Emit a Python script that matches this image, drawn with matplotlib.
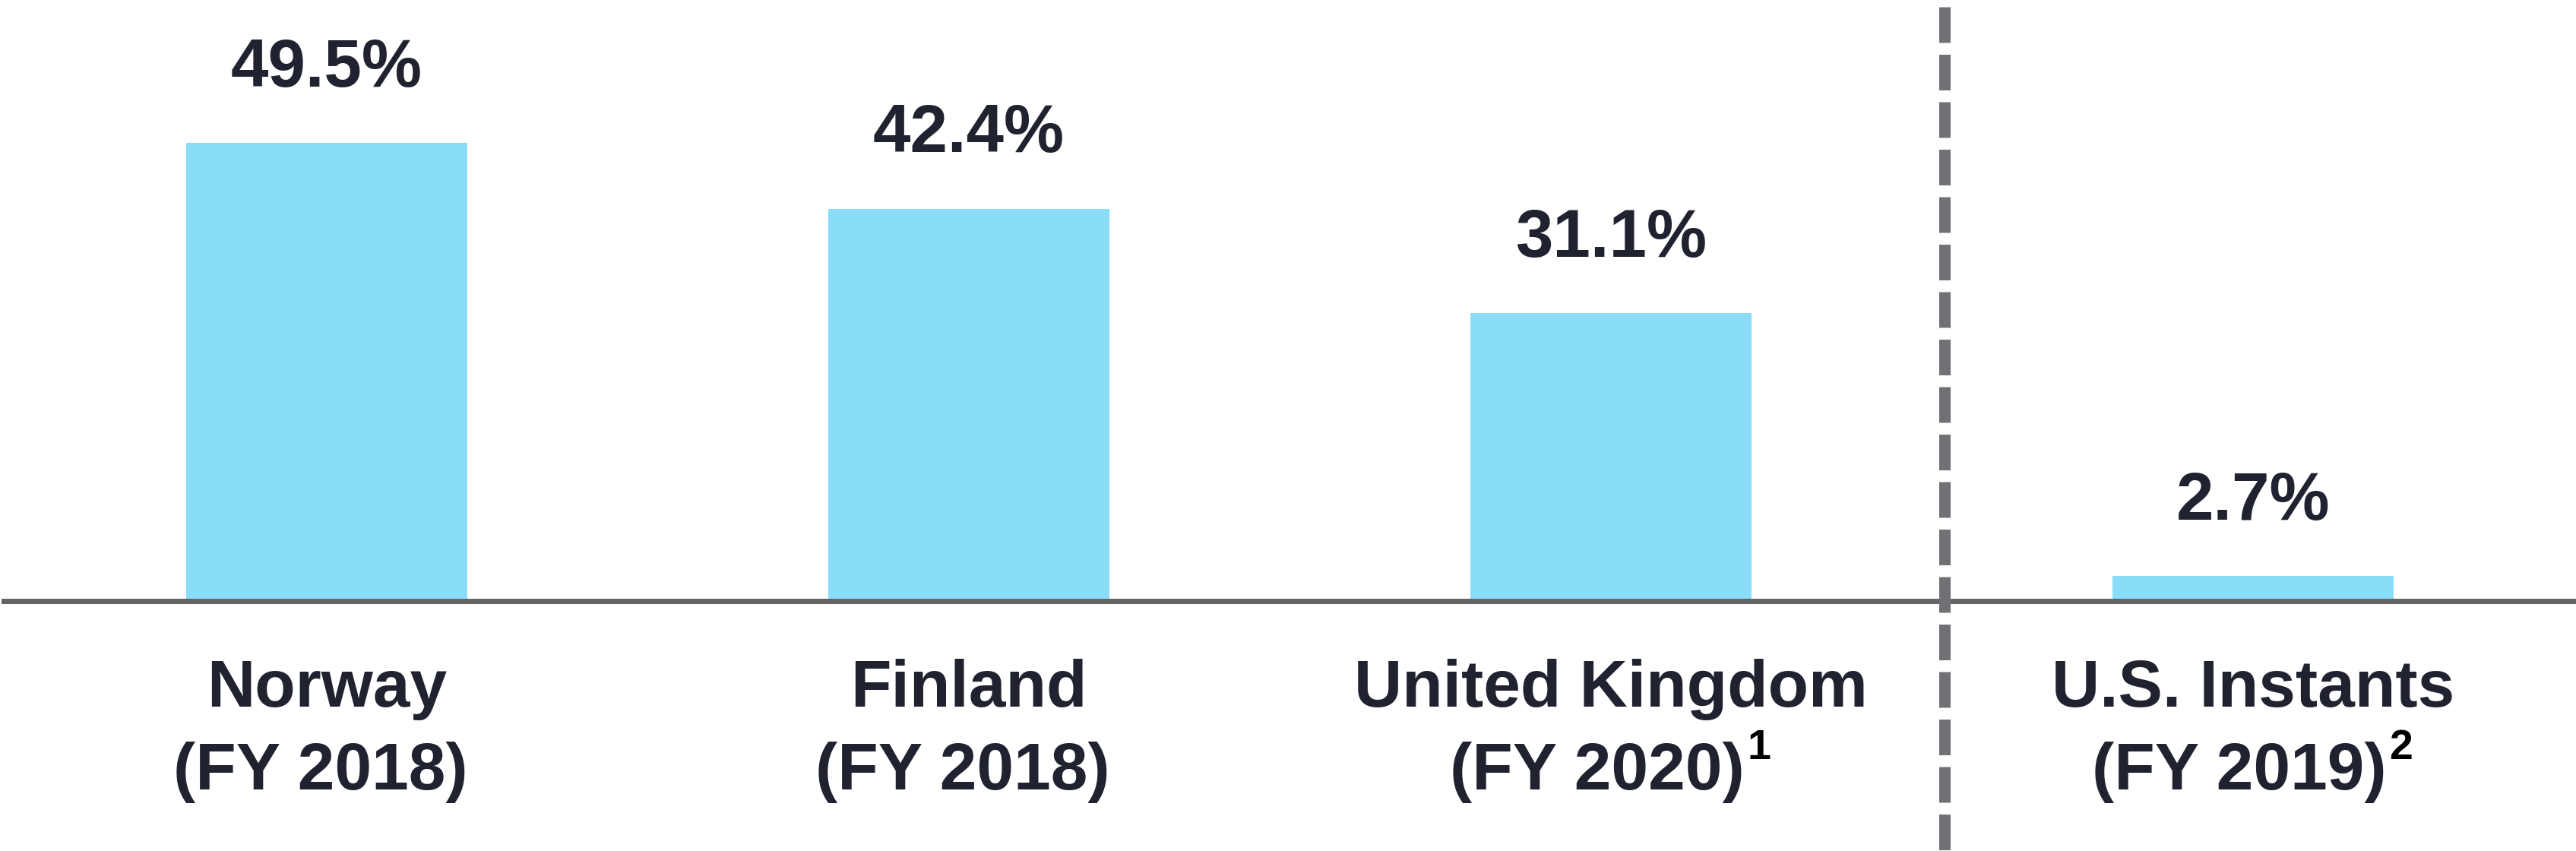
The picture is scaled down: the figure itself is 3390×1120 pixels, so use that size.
import numpy as np
import matplotlib
matplotlib.use('Agg')
import matplotlib.pyplot as plt

# Data
names = ['Norway', 'Finland', 'United Kingdom', 'U.S. Instants']
years = ['(FY 2018)', '(FY 2018)', '(FY 2020)', '(FY 2019)']
footnotes = ['', '', '1', '2']
values = [49.5, 42.4, 31.1, 2.7]

bar_color = '#8ADDF8'
text_color = '#20232F'

plt.rcParams['font.family'] = ['Liberation Sans', 'DejaVu Sans']
plt.rcParams['lines.scale_dashes'] = False

fig = plt.figure(figsize=(33.9, 11.2), dpi=100)
ax = fig.add_axes([0, 0, 1, 1])
ax.set_xlim(-0.509, 3.503)
ax.set_ylim(-27.0, 64.94)
ax.axis('off')

x = np.arange(len(values))
ax.bar(x, values, width=0.437, color=bar_color, zorder=2)

# Baseline
ax.axhline(0, xmin=5 / 3390, xmax=1, color='#636363', linewidth=5.0, zorder=3)

# Dashed divider between the first three and U.S. Instants
ax.plot([2.52, 2.52], [64.94, -27.0], color='#717175', linewidth=10.8,
        linestyle=(38.5, (33.8, 11.2)), solid_capstyle='butt',
        dash_capstyle='butt', zorder=4)

# Value labels above bars
for xi, v in zip(x, values):
    ax.text(xi, v + 6.1, f'{v}%', ha='center', va='baseline',
            fontsize=64, fontweight='bold', color=text_color)

# Category labels under the baseline
for xi, name, year, note in zip(x, names, years, footnotes):
    ax.text(xi, -11.41, name, ha='center', va='baseline',
            fontsize=63, fontweight='bold', color=text_color)
    shift = 0.022 if note else 0.01
    t2 = ax.text(xi - shift, -20.36, year, ha='center', va='baseline',
                 fontsize=63, fontweight='bold', color=text_color)
    if note:
        # footnote marker sits just after the closing bracket
        ax.annotate(note, xy=(1, -17.08), xycoords=(t2, 'data'),
                    xytext=(4, 0), textcoords='offset pixels',
                    ha='left', va='baseline', fontsize=40,
                    fontweight='bold', color='black')

fig.savefig('out.png', dpi=100)
